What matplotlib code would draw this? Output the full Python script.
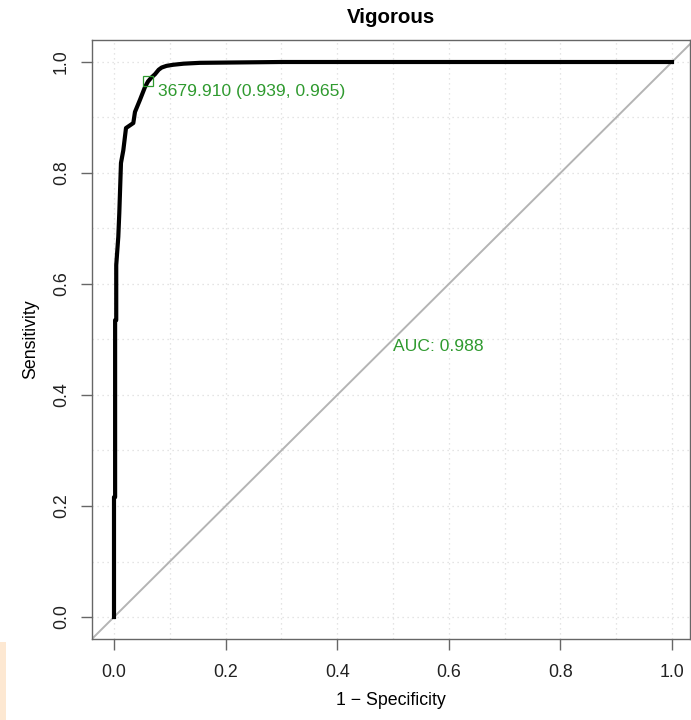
import matplotlib
matplotlib.use("Agg")
import matplotlib.pyplot as plt
from matplotlib.patches import Rectangle
import numpy as np

plt.rcParams["font.family"] = ["Liberation Sans", "DejaVu Sans"]

# ROC curve (1 - specificity, sensitivity)
fpr = [0.0, 0.0, 0.002, 0.002, 0.004, 0.004, 0.0077, 0.0095, 0.0125, 0.0167,
       0.0215, 0.0346, 0.0376, 0.0466, 0.0556, 0.061, 0.067, 0.0735, 0.08,
       0.0854, 0.094, 0.106, 0.125, 0.154, 0.3, 0.6, 1.0]
tpr = [0.0, 0.216, 0.216, 0.535, 0.535, 0.634, 0.685, 0.728, 0.818, 0.841,
       0.881, 0.89, 0.91, 0.932, 0.955, 0.965, 0.972, 0.978, 0.986,
       0.99, 0.993, 0.995, 0.997, 0.9985, 1.0, 1.0, 1.0]

best_thr = 3679.910
best_spec = 0.939
best_sens = 0.965
auc = 0.988

title = "Vigorous"
ticks = [0.0, 0.2, 0.4, 0.6, 0.8, 1.0]
green = "#2f9a2f"

fig = plt.figure(figsize=(6.91, 7.2), dpi=100)
ax = fig.add_axes([92 / 691, 81 / 720, 598 / 691, 599 / 720])

ax.set_xlim(-22 / 558, 576 / 558)
ax.set_ylim(-22 / 555, 577 / 555)

# dotted grid every 0.1
for g in np.arange(0, 1.01, 0.1):
    ax.axvline(g, color="#dcdcdc", lw=0.9, ls=(0, (1, 3)), zorder=0)
    ax.axhline(g, color="#dcdcdc", lw=0.9, ls=(0, (1, 3)), zorder=0)

ax.axline((0, 0), (1, 1), color="#b4b4b4", lw=1.4, zorder=1)
ax.plot(fpr, tpr, color="black", lw=3, zorder=3)

ax.plot(1 - best_spec, best_sens, marker="s", ms=7, mfc="none", mec=green,
        mew=0.9, zorder=4)
ax.text(0.079, 0.946, f"{best_thr:.3f} ({best_spec:.3f}, {best_sens:.3f})",
        color=green, fontsize=12.6, ha="left", va="center")
ax.text(0.5, 0.488, f"AUC: {auc:.3f}", color=green, fontsize=12.6,
        ha="left", va="center")

ax.set_xticks(ticks)
ax.set_yticks(ticks)
ax.set_xticklabels([f"{t:.1f}" for t in ticks])
ax.set_yticklabels([f"{t:.1f}" for t in ticks], rotation=90, va="center")
ax.tick_params(axis="both", length=8, width=1, color="#666666",
               labelsize=12.8, labelcolor="#222222")
ax.tick_params(axis="x", pad=10)
ax.tick_params(axis="y", pad=8)
for s in ax.spines.values():
    s.set_color("#666666")
    s.set_linewidth(1)

ax.set_xlabel("1 \u2212 Specificity", fontsize=12.8, labelpad=8)
ax.set_ylabel("Sensitivity", fontsize=12.8, labelpad=10)
ax.set_title(title, fontsize=14.8, fontweight="bold", pad=12)

fig.patches.append(Rectangle((0, 0), 6 / 691, 78 / 720, transform=fig.transFigure,
                             facecolor="#fde8d2", edgecolor="none"))

fig.savefig("out.png", dpi=100)
